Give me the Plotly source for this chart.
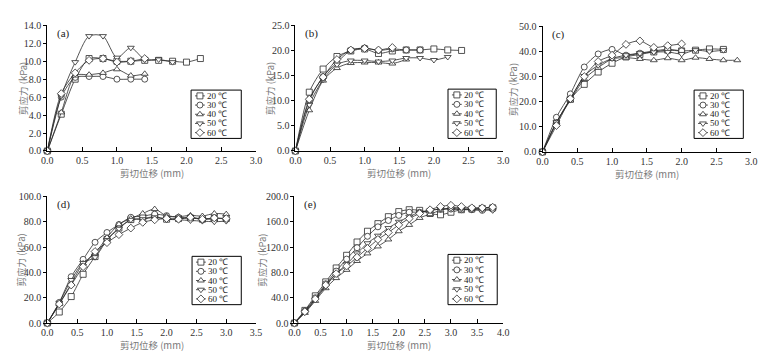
import plotly.graph_objects as go

W, H = 770, 359

# shear displacement (mm), 0.2 mm steps
disp = [0.0, 0.2, 0.4, 0.6, 0.8, 1.0, 1.2, 1.4, 1.6, 1.8,
        2.0, 2.2, 2.4, 2.6, 2.8, 3.0, 3.2, 3.4, 3.6, 3.8]

temps = ['20 ℃', '30 ℃', '40 ℃', '50 ℃', '60 ℃']
symbols = ['square', 'circle', 'triangle-up', 'triangle-down', 'diamond']

# shear stress (kPa), one list per temperature
a20 = [0, 4.1, 8.0, 10.3, 10.3, 10.0, 10.0, 10.1, 10.1, 10.0, 9.9, 10.3]
a30 = [0, 6.0, 8.2, 8.3, 8.3, 8.0, 8.0, 8.0]
a40 = [0, 4.3, 8.4, 8.5, 8.7, 9.1, 8.4, 8.6]
a50 = [0, 6.1, 9.9, 12.8, 12.8, 10.4, 11.5, 10.2, 10.2, 9.9]
a60 = [0, 6.4, 8.7, 10.1, 10.3, 9.9, 10.0, 10.3]

b20 = [0, 11.7, 16.3, 18.8, 19.9, 20.3, 19.4, 19.9, 20.1, 20.1, 20.3, 20.1, 20.0]
b30 = [0, 10.0, 14.8, 17.6, 20.0, 20.5, 20.0, 20.3, 20.1, 20.1]
b40 = [0, 8.1, 14.0, 16.5, 17.5, 17.6, 17.6, 17.4, 18.2]
b50 = [0, 9.2, 14.2, 17.2, 18.0, 18.0, 17.8, 18.0, 18.5, 18.5, 18.1, 18.7]
b60 = [0, 10.3, 14.7, 18.2, 20.1, 20.4, 20.1, 20.6]

c20 = [0, 11.5, 21.0, 26.9, 31.8, 35.3, 37.8, 38.8, 39.8, 40.5, 40.2, 40.5, 41.0, 40.8]
c30 = [0, 13.8, 23.1, 33.8, 39.0, 40.8, 38.5, 39.3, 40.2, 40.8, 40.2]
c40 = [0, 11.8, 20.5, 29.0, 33.5, 37.0, 37.5, 37.0, 36.5, 37.3, 36.5, 37.5, 37.0, 36.5, 36.5]
c50 = [0, 11.8, 21.0, 30.2, 34.5, 37.2, 38.5, 39.3, 39.7, 39.8, 39.0, 40.5, 40.0, 40.5]
c60 = [0, 10.5, 21.2, 30.0, 36.0, 38.5, 42.8, 44.2, 41.6, 42.3, 43.0]

d20 = [0, 8.7, 20.9, 38.5, 52.5, 66.0, 75.0, 81.7, 82.4, 84.0, 82.0, 82.5, 83.0, 82.0, 82.5, 82.5]
d30 = [0, 16.3, 36.6, 50.3, 63.8, 71.5, 77.8, 83.5, 84.3, 86.0, 84.8, 83.5, 83.0, 82.5, 82.0]
d40 = [0, 15.0, 31.0, 47.0, 55.0, 67.5, 78.0, 82.5, 86.5, 90.0, 84.5, 84.0, 85.0, 84.5, 86.5, 86.0]
d50 = [0, 16.0, 34.0, 47.5, 52.0, 65.5, 74.5, 81.5, 82.0, 83.5, 82.0, 81.5, 81.0, 80.5, 80.0, 80.5]
d60 = [0, 15.0, 30.0, 44.5, 56.5, 63.5, 69.8, 75.0, 79.5, 81.5, 82.5, 82.0, 83.5, 82.0, 83.0, 82.5]

e20 = [0, 20, 43, 65, 87, 107, 128, 145, 157, 168, 176, 179, 178, 173, 171, 175, 179, 180, 181, 182]
e30 = [0, 19, 40, 62, 82, 101, 119, 137, 152, 162, 170, 175, 175, 178, 180, 180, 179, 179, 178, 180]
e40 = [0, 16, 35, 55, 71, 84, 98, 110, 121, 132, 145, 155, 166, 172, 178, 182, 182, 181, 182, 183]
e50 = [0, 17, 37, 58, 78, 93, 110, 126, 138, 150, 160, 168, 175, 178, 180, 181, 180, 179, 179, 178]
e60 = [0, 18, 38, 60, 78, 90, 104, 118, 132, 143, 155, 165, 173, 179, 184, 186, 184, 182, 182, 183]

# panel: (label, series, x max, x dtick, y max, y dtick,
#         plot box px (l, r, t, b), legend box px (l, t, r, b), y-title x px)
panels = [
    ('(a)', [a20, a30, a40, a50, a60], 3.0, 0.5, 14, 2,
     (42, 254, 20, 150), (188, 87, 239, 137), 17),
    ('(b)', [b20, b30, b40, b50, b60], 3.0, 0.5, 25, 5,
     (294, 505, 20, 150), (449, 86, 498, 137), 268),
    ('(c)', [c20, c30, c40, c50, c60], 3.0, 0.5, 50, 10,
     (545, 757, 21, 151), (699, 87, 749, 137), 515),
    ('(d)', [d20, d30, d40, d50, d60], 3.5, 0.5, 100, 20,
     (42, 254, 197, 328), (189, 259, 239, 309), 15),
    ('(e)', [e20, e30, e40, e50, e60], 4.0, 0.5, 200, 40,
     (293, 505, 197, 328), (449, 257, 499, 309), 260),
]

SERIF = 'Liberation Serif, Times New Roman, serif'
CJK = 'Noto Sans CJK SC'
LINE_C = '#2a2a2a'
MS = 6


def px(x):
    return x / W


def py(y):
    return 1 - y / H


fig = go.Figure()
layout = {}
shapes = []
annots = []

for i, (lab, series, xmax, xdt, ymax, ydt, box, lbox, ytx) in enumerate(panels):
    n = i + 1
    xa = 'x' if n == 1 else f'x{n}'
    ya = 'y' if n == 1 else f'y{n}'
    l, r, t, b = box

    for temp, sym, ys in zip(temps, symbols, series):
        fig.add_trace(go.Scatter(
            x=disp[:len(ys)], y=ys, xaxis=xa, yaxis=ya,
            mode='lines+markers', name=temp, showlegend=False,
            cliponaxis=False,
            line=dict(color=LINE_C, width=0.8, shape='spline', smoothing=0.8),
            marker=dict(symbol=sym, size=MS, color='white',
                        line=dict(color=LINE_C, width=0.8)),
        ))

    axkey = 'xaxis' if n == 1 else f'xaxis{n}'
    aykey = 'yaxis' if n == 1 else f'yaxis{n}'
    layout[axkey] = dict(
        domain=[px(l), px(r)], anchor=ya, range=[0, xmax], dtick=xdt, tick0=0,
        tickformat='.1f', showline=True, linecolor='black', linewidth=1,
        ticks='inside', ticklen=4, tickcolor='black', showgrid=False, zeroline=False,
        tickfont=dict(family=SERIF, size=10, color='#333'), fixedrange=True)
    layout[aykey] = dict(
        domain=[py(b), py(t)], anchor=xa, range=[0, ymax], dtick=ydt, tick0=0,
        tickformat='.1f', showline=True, linecolor='black', linewidth=1,
        ticks='outside', ticklen=3, tickcolor='black', showgrid=False, zeroline=False,
        tickfont=dict(family=SERIF, size=10, color='#333'), fixedrange=True)

    # panel label
    annots.append(dict(text=lab, x=px(l + 8), y=py(t + 8), xref='paper', yref='paper',
                       xanchor='left', yanchor='middle', showarrow=False,
                       font=dict(family=SERIF, size=11, color='#222')))
    # axis titles
    annots.append(dict(text='剪切位移 (mm)', x=px((l + r) / 2), y=py(b + 23),
                       xref='paper', yref='paper', xanchor='center', yanchor='middle',
                       showarrow=False, font=dict(family=CJK, size=9.5, color='#777')))
    annots.append(dict(text='剪应力 (kPa)', x=px(ytx), y=py((t + b) / 2),
                       xref='paper', yref='paper', xanchor='center', yanchor='middle',
                       textangle=-90, showarrow=False,
                       font=dict(family=CJK, size=9.5, color='#777')))

    # legend box
    L, T, R, B = lbox
    shapes.append(dict(type='rect', xref='paper', yref='paper',
                       x0=px(L), x1=px(R), y0=py(B), y1=py(T),
                       line=dict(color='black', width=1), fillcolor='rgba(0,0,0,0)'))
    step = (B - T - 12) / 4
    for k, (temp, sym) in enumerate(zip(temps, symbols)):
        yy = T + 6 + step * k
        fig.add_trace(go.Scatter(
            x=[L + 4, L + 14], y=[yy, yy], xaxis='x6', yaxis='y6', mode='lines',
            showlegend=False, hoverinfo='skip', line=dict(color=LINE_C, width=0.8)))
        fig.add_trace(go.Scatter(
            x=[L + 9], y=[yy], xaxis='x6', yaxis='y6', mode='markers',
            showlegend=False, hoverinfo='skip', cliponaxis=False,
            marker=dict(symbol=sym, size=MS, color='white',
                        line=dict(color=LINE_C, width=0.8))))
        annots.append(dict(text=temp, x=px(L + 15.5), y=py(yy), xref='paper', yref='paper',
                           xanchor='left', yanchor='middle', showarrow=False, borderpad=0,
                           font=dict(family=SERIF, size=9, color='#222')))

# overlay axes in pixel units for the hand-drawn legends
layout['xaxis6'] = dict(domain=[0, 1], anchor='y6', range=[0, W], visible=False, fixedrange=True)
layout['yaxis6'] = dict(domain=[0, 1], anchor='x6', range=[H, 0], visible=False, fixedrange=True)

fig.update_layout(
    **layout,
    width=W, height=H,
    margin=dict(l=0, r=0, t=0, b=0),
    paper_bgcolor='white',
    plot_bgcolor='rgba(0,0,0,0)',
    showlegend=False,
    hovermode=False,
    shapes=shapes,
    annotations=annots,
)

# drop the default page margin so the figure sits at the window origin
fig.write_html("out.html", config={'displayModeBar': False},
               post_script="document.body.style.margin='0';document.body.style.padding='0';")
